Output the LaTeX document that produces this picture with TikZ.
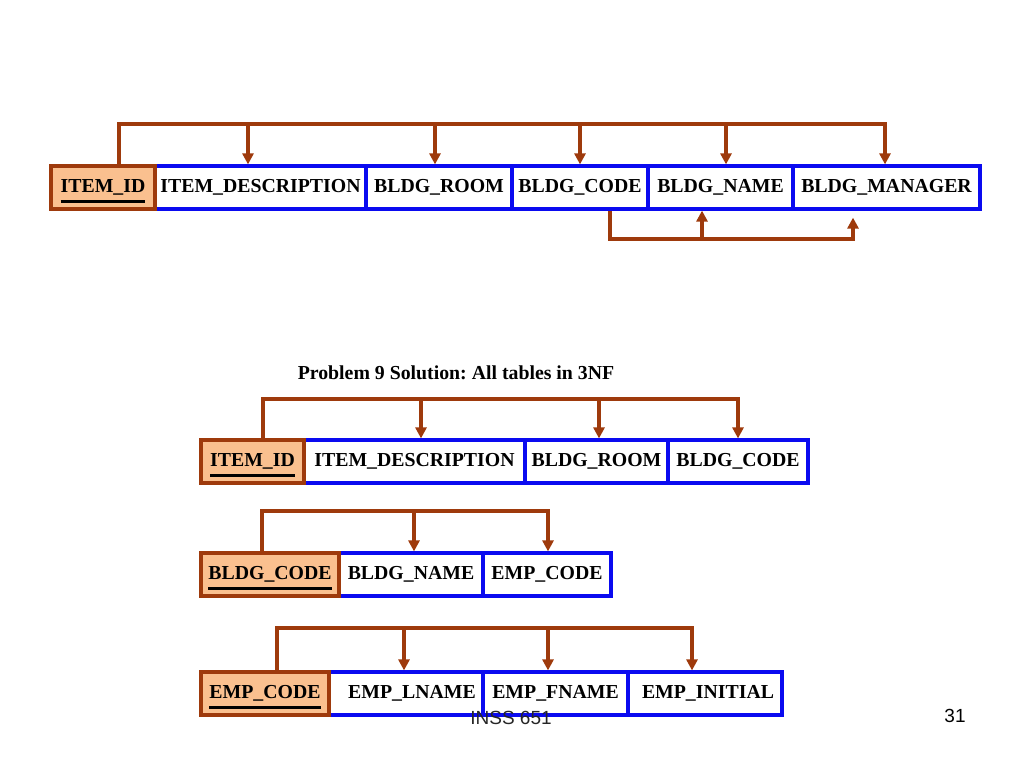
\documentclass[tikz,border=0pt]{standalone}
\usepackage{fontspec}
\setmainfont{Liberation Serif}
\newfontfamily\slidefont{Liberation Sans}
\usetikzlibrary{arrows.meta}
\definecolor{fdbrown}{RGB}{158,58,12}
\definecolor{keyfill}{RGB}{250,192,143}
\definecolor{fieldblue}{RGB}{10,10,240}
\frenchspacing
\newsavebox\keytext
\newcommand{\keyname}[1]{\sbox\keytext{#1}\rlap{\smash{\rule[-10pt]{\wd\keytext}{3pt}}}\usebox\keytext}
\tikzset{
  field/.style={draw=fieldblue, line width=3.2pt, fill=white, minimum height=43pt, inner sep=0pt, font=\fontsize{19.8}{22}\selectfont\bfseries},
  keyfield/.style={field, draw=fdbrown, fill=keyfill},
  fd/.style={draw=fdbrown, line width=3.2pt},
  fdarrow/.style={fd, -{Triangle[length=11pt,width=11pt]}}
}
\begin{document}
\begin{tikzpicture}[x=1pt,y=-1pt]
\useasboundingbox (0,0) rectangle (1024,768);
% original table
\node[field, minimum width=211pt] (desc1) at (260.5,187.5) {ITEM\_DESCRIPTION};
\node[field, minimum width=146pt] (room1) at (439,187.5) {BLDG\_ROOM};
\node[field, minimum width=136pt] (code1) at (580,187.5) {BLDG\_CODE};
\node[field, minimum width=145pt] (name1) at (720.5,187.5) {BLDG\_NAME};
\node[field, minimum width=187pt] (mgr1) at (886.5,187.5) {\raisebox{2.5pt}{BLDG\_MANAGER}};
\node[keyfield, minimum width=104pt] (id1) at (103,187.5) {\keyname{ITEM\_ID}};
\coordinate (top1) at (0,124);
\coordinate (low1) at (0,239);
\draw[fdarrow] ([xshift=16pt]id1.north) |- ([xshift=-1.5pt]mgr1.north |- top1) -- ([xshift=-1.5pt]mgr1.north);
\draw[fdarrow] ([xshift=-12.5pt]desc1.north |- top1) -- ([xshift=-12.5pt]desc1.north);
\draw[fdarrow] ([xshift=-4pt]room1.north |- top1) -- ([xshift=-4pt]room1.north);
\draw[fdarrow] (code1.north |- top1) -- (code1.north);
\draw[fdarrow] ([xshift=5.5pt]name1.north |- top1) -- ([xshift=5.5pt]name1.north);
\draw[fdarrow] ([xshift=30pt]code1.south) |- ([xshift=-33.5pt]mgr1.south |- low1) -- ([xshift=-33.5pt,yshift=-7pt]mgr1.south);
\draw[fdarrow] ([xshift=-18.5pt]name1.south |- low1) -- ([xshift=-18.5pt]name1.south);
% 3NF tables
\node[font=\fontsize{19.8}{22}\selectfont\bfseries] (title) at (456,373) {Problem 9 Solution: All tables in 3NF};
\node[field, minimum width=221pt] (desc2) at (414.5,461.5) {ITEM\_DESCRIPTION};
\node[field, minimum width=143pt] (room2) at (596.5,461.5) {BLDG\_ROOM};
\node[field, minimum width=140pt] (code2) at (738,461.5) {BLDG\_CODE};
\node[keyfield, minimum width=103pt] (id2) at (252.5,461.5) {\keyname{ITEM\_ID}};
\coordinate (top2) at (0,399);
\draw[fdarrow] ([xshift=10.5pt]id2.north) |- (code2.north |- top2) -- (code2.north);
\draw[fdarrow] ([xshift=6.5pt]desc2.north |- top2) -- ([xshift=6.5pt]desc2.north);
\draw[fdarrow] ([xshift=2.5pt]room2.north |- top2) -- ([xshift=2.5pt]room2.north);
\node[field, minimum width=144pt] (name3) at (411,574.5) {BLDG\_NAME};
\node[field, minimum width=128pt] (emp3) at (547,574.5) {EMP\_CODE};
\node[keyfield, minimum width=138pt] (code3) at (270,574.5) {\keyname{BLDG\_CODE}};
\coordinate (top3) at (0,511);
\draw[fdarrow] ([xshift=-8pt]code3.north) |- ([xshift=1pt]emp3.north |- top3) -- ([xshift=1pt]emp3.north);
\draw[fdarrow] ([xshift=3pt]name3.north |- top3) -- ([xshift=3pt]name3.north);
\node[field, minimum width=154pt] (lname4) at (406,693.5) {\hspace{12pt}EMP\_LNAME};
\node[field, minimum width=145pt] (fname4) at (555.5,693.5) {EMP\_FNAME};
\node[field, minimum width=154pt] (init4) at (705,693.5) {\hspace{6pt}EMP\_INITIAL};
\node[keyfield, minimum width=128pt] (emp4) at (265,693.5) {\keyname{EMP\_CODE}};
\coordinate (top4) at (0,628);
\draw[fdarrow] ([xshift=12pt]emp4.north) |- ([xshift=-13pt]init4.north |- top4) -- ([xshift=-13pt]init4.north);
\draw[fdarrow] ([xshift=-2pt]lname4.north |- top4) -- ([xshift=-2pt]lname4.north);
\draw[fdarrow] ([xshift=-7.5pt]fname4.north |- top4) -- ([xshift=-7.5pt]fname4.north);
% slide footer
\node[font=\slidefont\fontsize{19}{21}\selectfont, text=black!85] (course) at (511,718) {INSS 651};
\node[font=\slidefont\fontsize{19}{21}\selectfont] (page) at (955,716) {31};
\end{tikzpicture}
\end{document}
